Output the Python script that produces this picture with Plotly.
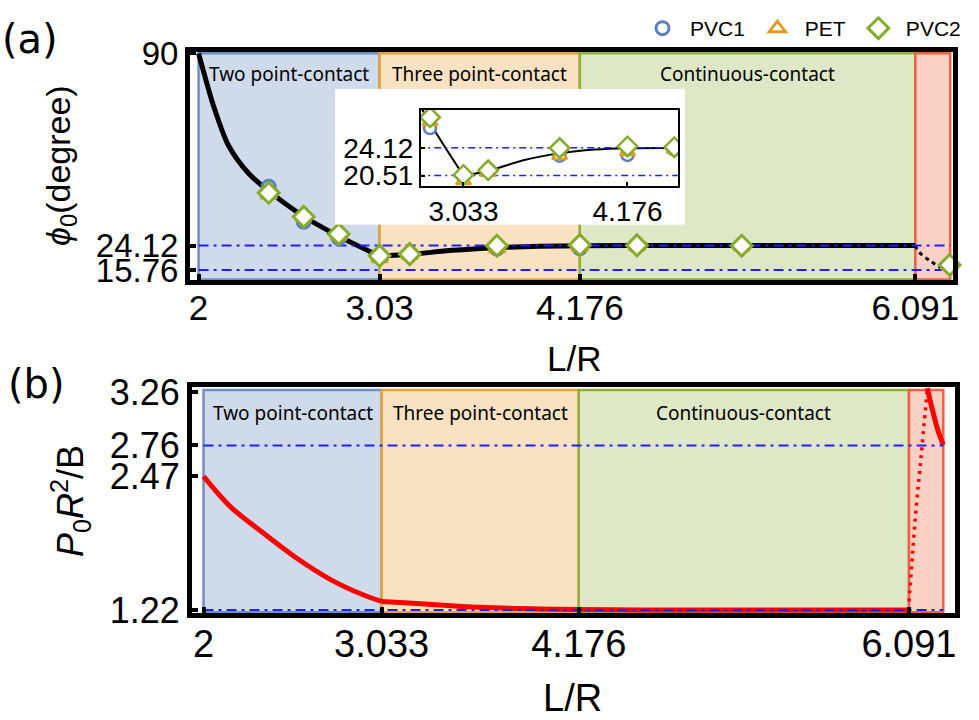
import plotly.graph_objects as go

# ---------------- data ----------------
region_bounds = [2.0, 3.033, 4.176, 6.091, 6.29]
region_labels = ["Two point-contact", "Three point-contact", "Continuous-contact"]

exp_x    = [2.40, 2.60, 2.80, 3.033, 3.205, 3.703, 4.176, 4.502, 5.10, 6.287]
pvc1_phi = [44.3, 32.3, 26.7, 20.5, 21.1, 23.1, 23.2, 23.9, 23.9, 17.4]
pet_phi  = [41.6, 34.6, 27.5, 19.8, 20.9, 23.1, 23.6, 23.9, 23.8, 17.2]
pvc2_phi = [42.2, 34.0, 28.1, 20.6, 21.2, 24.1, 24.3, 24.2, 24.1, 17.5]

phi_x_two   = [2.0, 2.025, 2.08, 2.17, 2.285, 2.405, 2.603, 2.805, 3.033]
phi_y_two   = [90.0, 84.5, 73.0, 58.5, 48.9, 42.6, 34.0, 27.2, 20.51]
phi_x_three = [3.033, 3.21, 3.45, 3.70, 3.95, 4.176, 4.5, 6.091]
phi_y_three = [20.51, 21.15, 22.5, 23.4, 23.9, 24.08, 24.12, 24.12]
phi_x_tail  = [6.091, 6.111, 6.167, 6.235]
phi_y_tail  = [24.12, 22.0, 19.2, 16.6]

p_x_two   = [2.0, 2.155, 2.348, 2.541, 2.734, 2.928, 3.033]
p_y_two   = [2.47, 2.187, 1.938, 1.704, 1.507, 1.360, 1.30]
p_x_three = [3.033, 3.217, 3.604, 4.176, 4.8, 6.091]
p_y_three = [1.30, 1.283, 1.245, 1.225, 1.22, 1.22]
p_x_dot   = [6.091, 6.112, 6.135, 6.154, 6.174, 6.197]
p_y_dot   = [1.30, 1.751, 2.219, 2.531, 2.875, 3.28]
p_x_end   = [6.197, 6.232, 6.261, 6.29]
p_y_end   = [3.296, 3.06, 2.89, 2.765]

phi_levels   = [24.12, 15.76]
inset_levels = [24.12, 20.51]
p_levels     = [2.76, 1.22]

phi_ticks    = [15.76, 24.12, 90]
p_ticks      = [1.22, 2.47, 2.76, 3.26]
x_ticks      = [2, 3.033, 4.176, 6.091]
x_ticktext_a = ["2", "3.03", "4.176", "6.091"]
x_ticktext_b = ["2", "3.033", "4.176", "6.091"]
inset_xticks = [3.033, 4.176]
inset_yticks = [20.51, 24.12]

# ---------------- style ----------------
W, H = 979, 720
TICKF = "Liberation Sans, Arial, sans-serif"
LABF = "Noto Sans, DejaVu Sans, sans-serif"
DASHDOT = "10px,5px,3px,5px"
LVL_COLOR = "#1f1fff"
region_fill = ["#cfdbea", "#f8e2c2", "#dfe8c6", "#facfc4"]
region_line = ["#6f8fc4", "#e6a234", "#8fb03a", "#f0623f"]
series = [("PVC1", pvc1_phi, "circle", "#5b7fbf", 13),
          ("PET", pet_phi, "triangle-up", "#e49b22", 14),
          ("PVC2", pvc2_phi, "diamond", "#86ab2a", 16)]


def fx(p):
    return p / W


def fy(p):
    return 1 - p / H


fig = go.Figure()

# --- top panel curves ---
for xs, ys in [(phi_x_two, phi_y_two), (phi_x_three, phi_y_three)]:
    fig.add_trace(go.Scatter(x=xs, y=ys, mode="lines", showlegend=False, hoverinfo="skip",
                             line=dict(color="black", width=5, shape="spline", smoothing=0.8),
                             xaxis="x", yaxis="y"))
fig.add_trace(go.Scatter(x=phi_x_tail, y=phi_y_tail, mode="lines", showlegend=False,
                         line=dict(color="black", width=3, dash="4px,4px", shape="spline"),
                         xaxis="x", yaxis="y"))
for lvl in phi_levels:
    fig.add_trace(go.Scatter(x=[region_bounds[0], region_bounds[-1]], y=[lvl, lvl], mode="lines",
                             showlegend=False, line=dict(color=LVL_COLOR, width=2, dash=DASHDOT),
                             xaxis="x", yaxis="y"))
for name, ys, sym, col, sz in series:
    fig.add_trace(go.Scatter(x=exp_x, y=ys, mode="markers", name=name, cliponaxis=False,
                             marker=dict(symbol=sym, size=sz, color="white",
                                         line=dict(color=col, width=3)),
                             xaxis="x", yaxis="y"))

# --- bottom panel curves ---
for xs, ys in [(p_x_two, p_y_two), (p_x_three, p_y_three), (p_x_end, p_y_end)]:
    fig.add_trace(go.Scatter(x=xs, y=ys, mode="lines", showlegend=False,
                             line=dict(color="#ff0000", width=5, shape="spline", smoothing=0.8),
                             xaxis="x2", yaxis="y2"))
fig.add_trace(go.Scatter(x=p_x_dot, y=p_y_dot, mode="lines", showlegend=False,
                         line=dict(color="#ff0000", width=3.5, dash="3px,5px", shape="spline"),
                         xaxis="x2", yaxis="y2"))
for lvl in p_levels:
    fig.add_trace(go.Scatter(x=[region_bounds[0], region_bounds[-1]], y=[lvl, lvl], mode="lines",
                             showlegend=False, line=dict(color=LVL_COLOR, width=2, dash=DASHDOT),
                             xaxis="x2", yaxis="y2"))

# --- inset backdrop subplot (empty) ---
fig.add_trace(go.Scatter(x=[], y=[], showlegend=False, xaxis="x3", yaxis="y3"))

# --- inset ---
for xs, ys in [(phi_x_two, phi_y_two), (phi_x_three, phi_y_three)]:
    fig.add_trace(go.Scatter(x=xs, y=ys, mode="lines", showlegend=False,
                             line=dict(color="black", width=2, shape="spline", smoothing=0.8),
                             xaxis="x4", yaxis="y4"))
for lvl in inset_levels:
    fig.add_trace(go.Scatter(x=[region_bounds[0], region_bounds[-1]], y=[lvl, lvl], mode="lines",
                             showlegend=False, line=dict(color=LVL_COLOR, width=1.5, dash="7px,4px,2px,4px"),
                             xaxis="x4", yaxis="y4"))
for name, ys, sym, col, sz in series:
    fig.add_trace(go.Scatter(x=exp_x, y=ys, mode="markers", showlegend=False,
                             marker=dict(symbol=sym, size=sz - 1, color="white",
                                         line=dict(color=col, width=2.5)),
                             xaxis="x4", yaxis="y4"))

# --- shapes ---
shapes = []
for i in range(4):
    shapes.append(dict(type="rect", xref="x", yref="y", layer="below",
                       x0=region_bounds[i], x1=region_bounds[i + 1], y0=12.5, y1=90,
                       fillcolor=region_fill[i], line=dict(color=region_line[i], width=2.5)))
    shapes.append(dict(type="rect", xref="x2", yref="y2", layer="below",
                       x0=region_bounds[i], x1=region_bounds[i + 1], y0=1.2, y1=3.28,
                       fillcolor=region_fill[i], line=dict(color=region_line[i], width=2.5)))
shapes.append(dict(type="rect", xref="x3", yref="y3", layer="below", x0=0, x1=1, y0=0, y1=1,
                   fillcolor="white", line=dict(width=0)))


def frame_axis(**kw):
    d = dict(showline=True, linecolor="black", linewidth=5, mirror=True, showgrid=False,
             zeroline=False, ticks="inside", ticklen=6, tickwidth=4, tickcolor="black",
             tickmode="array", automargin=False)
    d.update(kw)
    return d


def note(x, y, text, size, family=TICKF, **kw):
    d = dict(x=x, y=y, xref="paper", yref="paper", text=text, showarrow=False,
             xanchor="center", yanchor="middle",
             font=dict(family=family, size=size, color="black"))
    d.update(kw)
    return d


annotations = []
mids = [(region_bounds[i] + region_bounds[i + 1]) / 2 for i in range(3)]
for m, lab in zip(mids, region_labels):
    annotations.append(note(m, fy(74), lab, 19, LABF, xref="x"))
    annotations.append(note(m, fy(413), lab, 19, LABF, xref="x2"))
annotations += [
    note(fx(574), fy(358), "L/R", 35),
    note(fx(572), fy(698), "L/R", 38),
    note(fx(60), fy(166), "<i>ϕ</i><sub>0</sub>(degree)", 34, textangle=-90),
    note(fx(70), fy(501), "<i>P</i><sub>0</sub><i>R</i><sup>2</sup>/B", 36, textangle=-90),
    note(fx(30), fy(39), "(a)", 40, "DejaVu Sans"),
    note(fx(36), fy(384), "(b)", 40, "DejaVu Sans"),
]

fig.update_layout(
    template="none",
    width=W, height=H, margin=dict(l=0, r=0, t=0, b=0, pad=0),
    paper_bgcolor="white", plot_bgcolor="white",
    shapes=shapes, annotations=annotations,
    legend=dict(orientation="h", x=fx(966), xanchor="right", y=fy(8), yanchor="top",
                font=dict(family=TICKF, size=21, color="black"), bgcolor="rgba(0,0,0,0)",
                itemsizing="trace", itemwidth=45),
    xaxis=frame_axis(domain=[fx(190), fx(953)], range=[1.951, 6.306], anchor="y",
                     tickvals=x_ticks, ticktext=x_ticktext_a, ticklabelstandoff=-7,
                     tickfont=dict(family=TICKF, size=35, color="black")),
    yaxis=frame_axis(domain=[fy(280), fy(52)], range=[12.33, 90.45], anchor="x",
                     tickvals=phi_ticks, tickfont=dict(family=TICKF, size=33, color="black")),
    xaxis2=frame_axis(domain=[fx(192), fx(955)], range=[1.933, 6.358], anchor="y2",
                      tickvals=x_ticks, ticktext=x_ticktext_b, ticklabelstandoff=-7,
                      tickfont=dict(family=TICKF, size=38, color="black")),
    yaxis2=frame_axis(domain=[fy(613), fy(387)], range=[1.192, 3.307], anchor="x2",
                      tickvals=p_ticks, tickfont=dict(family=TICKF, size=36, color="black")),
    xaxis3=dict(domain=[fx(335), fx(685)], range=[0, 1], anchor="y3", visible=False),
    yaxis3=dict(domain=[fy(224.5), fy(89)], range=[0, 1], anchor="x3", visible=False),
    xaxis4=frame_axis(domain=[fx(421), fx(678)], range=[2.737, 4.528], anchor="y4",
                      linewidth=2, ticklen=4, tickwidth=2, tickvals=inset_xticks,
                      tickfont=dict(family=TICKF, size=28, color="black")),
    yaxis4=frame_axis(domain=[fy(185.5), fy(109.5)], range=[19.22, 29.11], anchor="x4",
                      linewidth=2, ticklen=4, tickwidth=2, tickvals=inset_yticks,
                      tickfont=dict(family=TICKF, size=28, color="black")),
)

fig.write_html("out.html", config={"displayModeBar": False},
               post_script="document.body.style.margin='0px';")
